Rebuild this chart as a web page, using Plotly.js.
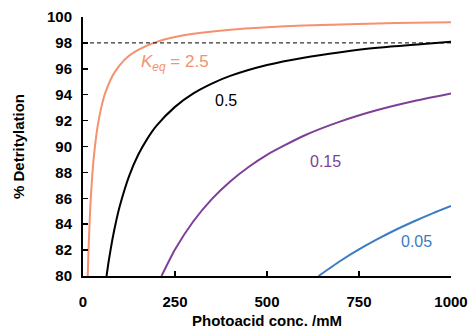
<!DOCTYPE html>
<html>
<head>
<meta charset="utf-8">
<script src="https://cdn.plot.ly/plotly-3.0.1.min.js"></script>
<style>html,body{margin:0;padding:0;background:#fff}#chart{width:470px;height:332px}</style>
</head>
<body>
<div id="chart"></div>
<script>
// Photoacid concentration (mM) and % detritylation for each Keq
const x_k25 = [12.8, 15, 20, 25, 30, 40, 50, 60, 80, 100, 125, 150, 200, 250, 300, 400, 500, 600, 700, 800, 900, 1000];
const y_k25 = [80.0, 82.05, 85.41, 87.70, 89.36, 91.61, 93.06, 94.10, 95.45, 96.29, 97.00, 97.47, 98.08, 98.45, 98.70, 99.02, 99.21, 99.34, 99.43, 99.50, 99.56, 99.60];
const x_k05 = [64, 70, 80, 90, 100, 125, 150, 175, 200, 250, 300, 350, 400, 500, 600, 700, 800, 900, 1000];
const y_k05 = [80.0, 81.18, 82.84, 84.23, 85.41, 87.70, 89.36, 90.61, 91.61, 93.06, 94.10, 94.86, 95.45, 96.29, 96.86, 97.28, 97.62, 97.85, 98.08];
const x_k015 = [213.3, 250, 300, 350, 400, 450, 500, 600, 700, 800, 900, 1000];
const y_k015 = [80.0, 82.05, 84.23, 85.94, 87.30, 88.42, 89.36, 90.83, 91.94, 92.82, 93.52, 94.10];
const x_k005 = [640, 700, 750, 800, 850, 900, 950, 1000];
const y_k005 = [80.0, 81.18, 82.05, 82.84, 83.57, 84.23, 84.84, 85.41];
const xTicks = [0, 250, 500, 750, 1000];
const yTicks = [80, 82, 84, 86, 88, 90, 92, 94, 96, 98, 100];
const threshold = 98;

const seriesColors = ['#f4916e', '#000000', '#7e3f98', '#3c7cc0'];

const traces = [
  {x: x_k25, y: y_k25, color: seriesColors[0]},
  {x: x_k05, y: y_k05, color: seriesColors[1]},
  {x: x_k015, y: y_k015, color: seriesColors[2]},
  {x: x_k005, y: y_k005, color: seriesColors[3]}
].map(s => ({
  x: s.x, y: s.y, type: 'scatter', mode: 'lines',
  line: {color: s.color, width: 2, shape: 'spline', smoothing: 0.6},
  showlegend: false, hoverinfo: 'skip', cliponaxis: false
}));

const FAM = 'Liberation Sans, Arial, sans-serif';
const axisFont = {family: FAM, size: 15, color: '#000'};
const tickFont = {family: FAM, size: 15, color: '#000', weight: 'bold'};

const layout = {
  width: 470, height: 332,
  margin: {l: 83, r: 19, t: 17, b: 56},
  paper_bgcolor: '#fff', plot_bgcolor: '#fff',
  showlegend: false,
  xaxis: {
    range: [0, 1000], tickvals: xTicks,
    ticks: 'inside', ticklen: 5, tickwidth: 1.5, tickcolor: '#000',
    showline: true, linecolor: '#000', linewidth: 2,
    showgrid: false, zeroline: false,
    tickfont: tickFont,
    ticklabelstandoff: 11,
    title: {text: '<b>Photoacid conc. /mM</b>', font: axisFont, standoff: 6}
  },
  yaxis: {
    range: [80, 100], tickvals: yTicks,
    ticks: 'inside', ticklen: 5, tickwidth: 1.5, tickcolor: '#000',
    showline: true, linecolor: '#000', linewidth: 2,
    showgrid: false, zeroline: false,
    tickfont: tickFont,
    ticklabelstandoff: 6,
    title: {text: '<b>% Detritylation</b>', font: axisFont, standoff: 19}
  },
  shapes: [{
    type: 'line', xref: 'x', yref: 'y', x0: 0, x1: 1000, y0: threshold, y1: threshold,
    line: {color: '#000', width: 1, dash: '4px,3px'}
  }],
  annotations: [
    {x: 139, y: 63, text: '<i>K</i><sub><i>eq</i></sub> = 2.5',
     xanchor: 'left', showarrow: false, font: {family: FAM, size: 17, color: seriesColors[0]}},
    {x: 226, y: 100, text: '0.5', showarrow: false, font: {family: FAM, size: 16, color: seriesColors[1]}},
    {x: 325, y: 161, text: '0.15', showarrow: false, font: {family: FAM, size: 16, color: seriesColors[2]}},
    {x: 416, y: 241, text: '0.05', showarrow: false, font: {family: FAM, size: 16, color: seriesColors[3]}}
  ]
};

// Convert label pixel positions to data coordinates via axis ranges
const plotL = 83, plotR = 470 - 19, plotT = 17, plotB = 332 - 56;
layout.annotations.forEach(a => {
  a.xref = 'x'; a.yref = 'y';
  a.x = (a.x - plotL) / (plotR - plotL) * 1000;
  a.y = 100 - (a.y - plotT) / (plotB - plotT) * 20;
});

Plotly.newPlot('chart', traces, layout, {staticPlot: true, displayModeBar: false});
</script>
</body>
</html>
